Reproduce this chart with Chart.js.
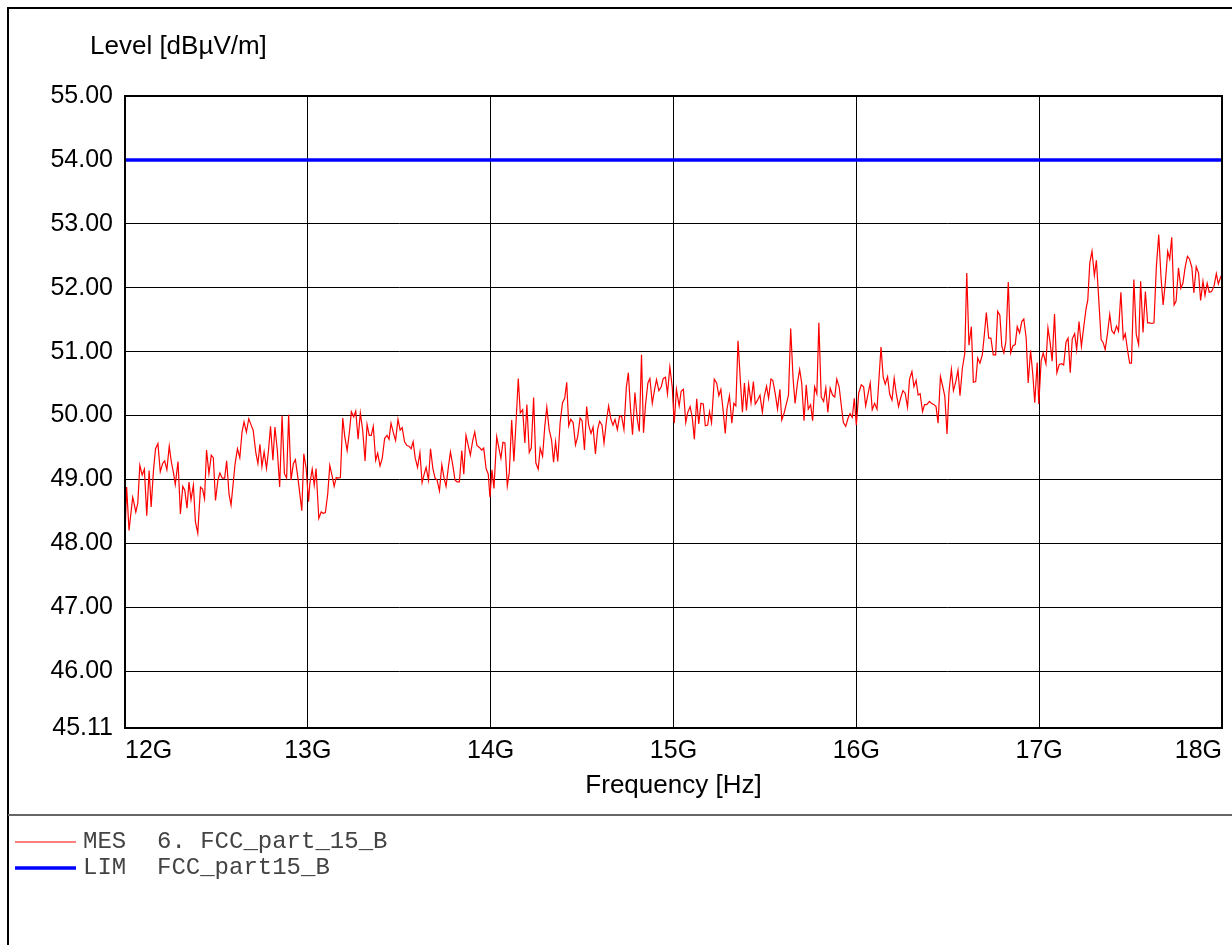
<!DOCTYPE html>
<html>
<head>
<meta charset="utf-8">
<title>Level vs Frequency</title>
<script src="https://cdn.jsdelivr.net/npm/chart.js@4.4.1/dist/chart.umd.min.js"></script>
<style>
	body { margin: 0; background: #fff; }
	canvas { display: block; }
</style>
</head>
<body>
<canvas id="myChart" width="1232" height="945"></canvas>
<script>
// frequencies in GHz
var mesFreq = [
	12.000, 12.009, 12.022, 12.042, 12.048, 12.059, 12.070, 12.081, 12.094, 12.106, 12.119, 12.132, 12.143, 12.156, 12.167, 12.180,
	12.193, 12.206, 12.217, 12.229, 12.242, 12.253, 12.266, 12.275, 12.290, 12.303, 12.316, 12.327, 12.339, 12.350, 12.361, 12.374,
	12.385, 12.398, 12.413, 12.424, 12.435, 12.446, 12.459, 12.472, 12.483, 12.495, 12.508, 12.519, 12.532, 12.545, 12.556, 12.569,
	12.580, 12.602, 12.615, 12.628, 12.640, 12.651, 12.664, 12.677, 12.690, 12.701, 12.716, 12.727, 12.738, 12.749, 12.761, 12.774,
	12.785, 12.796, 12.809, 12.820, 12.833, 12.846, 12.859, 12.872, 12.884, 12.895, 12.908, 12.921, 12.932, 12.945, 12.958, 12.967,
	12.978, 12.991, 13.004,
	13.011, 13.024, 13.035, 13.045, 13.060, 13.073, 13.084, 13.096, 13.109, 13.120, 13.133, 13.144, 13.155, 13.165, 13.178, 13.191,
	13.202, 13.215, 13.227, 13.238, 13.251, 13.262, 13.275, 13.287, 13.300, 13.313, 13.324, 13.336, 13.347, 13.358, 13.371, 13.382,
	13.395, 13.407, 13.420, 13.433, 13.444, 13.455, 13.467, 13.480, 13.493, 13.505, 13.516, 13.529, 13.542, 13.553, 13.565, 13.576,
	13.587, 13.600, 13.613, 13.625, 13.636, 13.647, 13.660, 13.671, 13.684, 13.696, 13.707, 13.720, 13.733, 13.745, 13.756, 13.769,
	13.780, 13.793, 13.805, 13.816, 13.829, 13.842, 13.853, 13.865, 13.876, 13.889, 13.902, 13.913, 13.925, 13.938, 13.951, 13.962,
	13.975, 13.987, 13.996, 14.007, 14.018,
	14.033, 14.045, 14.056, 14.067, 14.078, 14.091, 14.102, 14.115, 14.127, 14.140, 14.151, 14.162, 14.175, 14.187, 14.198, 14.211,
	14.222, 14.235, 14.247, 14.260, 14.271, 14.284, 14.296, 14.307, 14.320, 14.333, 14.344, 14.355, 14.367, 14.380, 14.393, 14.405,
	14.416, 14.427, 14.438, 14.451, 14.464, 14.476, 14.489, 14.500, 14.513, 14.525, 14.536, 14.549, 14.560, 14.573, 14.585, 14.596,
	14.609, 14.620, 14.633, 14.645, 14.658, 14.669, 14.680, 14.693, 14.705, 14.716, 14.729, 14.742, 14.753, 14.765, 14.776, 14.789,
	14.802, 14.813, 14.825, 14.836, 14.847, 14.860, 14.871, 14.884, 14.896, 14.907, 14.920, 14.933, 14.944, 14.956, 14.967, 14.980,
	14.993, 15.004, 15.016,
	15.031, 15.042, 15.054, 15.067, 15.078, 15.091, 15.103, 15.114, 15.127, 15.138, 15.150, 15.163, 15.174, 15.187, 15.197, 15.208,
	15.223, 15.236, 15.248, 15.259, 15.272, 15.283, 15.293, 15.306, 15.319, 15.330, 15.341, 15.353, 15.366, 15.377, 15.388, 15.399,
	15.411, 15.424, 15.437, 15.447, 15.460, 15.473, 15.486, 15.496, 15.509, 15.520, 15.533, 15.543, 15.556, 15.569, 15.582, 15.592,
	15.605, 15.618, 15.629, 15.641, 15.654, 15.665, 15.678, 15.690, 15.701, 15.714, 15.726, 15.737, 15.750, 15.761, 15.772, 15.784,
	15.795, 15.808, 15.821, 15.833, 15.844, 15.857, 15.870, 15.882, 15.893, 15.906, 15.918, 15.929, 15.942, 15.955, 15.966, 15.978,
	15.989, 16.000, 16.013,
	16.027, 16.040, 16.051, 16.064, 16.076, 16.087, 16.100, 16.113, 16.135, 16.147, 16.158, 16.171, 16.182, 16.195, 16.207, 16.218,
	16.231, 16.242, 16.255, 16.267, 16.280, 16.291, 16.304, 16.315, 16.327, 16.338, 16.349, 16.362, 16.373, 16.385, 16.400, 16.411,
	16.425, 16.436, 16.447, 16.460, 16.473, 16.484, 16.496, 16.507, 16.520, 16.531, 16.544, 16.556, 16.567, 16.580, 16.593, 16.604,
	16.616, 16.629, 16.640, 16.653, 16.664, 16.676, 16.689, 16.700, 16.711, 16.724, 16.736, 16.749, 16.762, 16.773, 16.785, 16.796,
	16.807, 16.818, 16.831, 16.844, 16.856, 16.869, 16.880, 16.893, 16.905, 16.916, 16.929, 16.940, 16.953, 16.965, 16.976, 16.989,
	16.998, 17.011, 17.022,
	17.037, 17.048, 17.060, 17.071, 17.084, 17.097, 17.110, 17.123, 17.134, 17.147, 17.158, 17.170, 17.181, 17.194, 17.205, 17.218,
	17.231, 17.244, 17.256, 17.266, 17.277, 17.289, 17.302, 17.313, 17.326, 17.339, 17.350, 17.361, 17.374, 17.386, 17.397, 17.410,
	17.423, 17.434, 17.447, 17.460, 17.471, 17.484, 17.495, 17.505, 17.518, 17.531, 17.544, 17.555, 17.568, 17.581, 17.593, 17.604,
	17.617, 17.628, 17.641, 17.654, 17.667, 17.678, 17.690, 17.703, 17.714, 17.725, 17.738, 17.749, 17.762, 17.775, 17.786, 17.799,
	17.811, 17.822, 17.835, 17.846, 17.859, 17.872, 17.883, 17.896, 17.907, 17.919, 17.930, 17.943, 17.956, 17.969, 17.980, 17.993,
	18.000
];

// level in dBµV/m
var mesLevel = [
	48.13, 48.88, 48.20, 48.72, 48.65, 48.49, 48.63, 49.22, 49.07, 49.16, 48.43, 49.14, 48.57, 49.15, 49.48, 49.56,
	49.12, 49.25, 49.29, 49.15, 49.52, 49.28, 49.09, 48.92, 49.28, 48.46, 48.89, 48.83, 48.55, 48.96, 48.68, 48.91,
	48.34, 48.16, 48.88, 48.85, 48.70, 49.46, 49.09, 49.38, 49.34, 48.67, 48.99, 49.10, 49.02, 49.02, 49.29, 48.77,
	48.60, 49.24, 49.48, 49.34, 49.74, 49.90, 49.74, 49.95, 49.85, 49.77, 49.41, 49.25, 49.55, 49.20, 49.43, 49.17,
	49.46, 49.83, 49.30, 49.82, 49.46, 48.88, 50.00, 49.09, 49.02, 50.01, 48.99, 49.25, 49.31, 49.04, 48.73, 48.51,
	49.40, 49.17, 48.65,
	48.94, 49.16, 48.91, 49.17, 48.39, 48.49, 48.47, 48.48, 48.78, 49.22, 49.05, 48.89, 49.03, 49.02, 49.03, 49.96,
	49.67, 49.45, 49.73, 50.06, 49.98, 50.07, 49.63, 50.04, 49.77, 49.29, 49.86, 49.69, 49.69, 49.83, 49.30, 49.41,
	49.21, 49.33, 49.64, 49.69, 49.63, 49.88, 49.74, 49.61, 49.94, 49.77, 49.81, 49.59, 49.53, 49.52, 49.48, 49.59,
	49.34, 49.19, 49.42, 48.95, 49.08, 49.19, 48.99, 49.48, 49.17, 49.02, 48.99, 48.82, 49.23, 49.02, 48.89, 49.20,
	49.43, 49.22, 48.99, 48.96, 48.96, 49.45, 49.08, 49.69, 49.55, 49.38, 49.61, 49.74, 49.53, 49.50, 49.46, 49.49,
	49.17, 49.08, 48.72, 49.15, 48.86,
	49.67, 49.49, 49.33, 49.58, 49.57, 48.90, 49.11, 49.93, 49.28, 49.96, 50.58, 50.04, 50.09, 49.57, 50.17, 49.42,
	49.49, 50.28, 49.26, 49.16, 49.49, 49.36, 49.83, 50.13, 49.78, 49.62, 49.27, 49.59, 49.28, 49.89, 50.20, 50.27,
	50.52, 49.84, 49.94, 49.89, 49.54, 49.67, 49.96, 49.92, 49.46, 50.14, 49.85, 49.72, 49.82, 49.40, 49.78, 49.91,
	49.85, 49.57, 49.91, 50.15, 49.94, 49.85, 49.94, 49.78, 49.99, 49.99, 49.78, 50.44, 50.67, 50.10, 49.70, 50.36,
	49.94, 49.75, 50.95, 49.73, 50.17, 50.51, 50.58, 50.19, 50.40, 50.56, 50.39, 50.45, 50.58, 50.60, 50.34, 50.76,
	50.45, 49.88, 50.41,
	50.15, 50.38, 50.41, 49.89, 50.05, 50.14, 49.96, 49.63, 50.26, 49.87, 50.19, 50.18, 49.84, 49.85, 50.06, 49.89,
	50.57, 50.51, 50.31, 50.41, 50.06, 49.72, 50.11, 50.31, 49.88, 50.19, 50.15, 51.17, 50.53, 50.05, 50.51, 50.08,
	50.49, 50.20, 50.53, 50.18, 50.24, 50.32, 50.05, 50.29, 50.46, 50.27, 50.57, 50.55, 50.35, 50.10, 50.41, 49.93,
	50.04, 50.19, 50.32, 51.36, 50.58, 50.19, 50.51, 50.72, 50.51, 49.92, 50.48, 50.10, 50.17, 49.92, 50.45, 50.34,
	51.45, 50.29, 50.22, 50.43, 50.05, 50.43, 50.32, 50.29, 50.57, 50.45, 50.15, 49.89, 49.83, 49.96, 50.03, 49.97,
	50.27, 49.85, 50.35,
	50.48, 50.45, 50.15, 50.34, 50.51, 50.09, 50.19, 50.10, 51.07, 50.60, 50.49, 50.61, 50.34, 50.24, 50.58, 50.35,
	50.14, 50.27, 50.39, 50.35, 50.13, 50.57, 50.69, 50.45, 50.55, 50.32, 50.34, 50.06, 50.17, 50.17, 50.22, 50.19,
	50.17, 50.14, 49.88, 50.61, 50.45, 50.30, 49.71, 50.38, 50.72, 50.39, 50.53, 50.71, 50.31, 50.74, 50.97, 52.23,
	51.10, 51.39, 50.52, 50.53, 50.90, 50.82, 50.95, 51.26, 51.61, 51.21, 51.21, 50.95, 50.95, 51.63, 51.57, 51.08,
	50.98, 51.16, 52.09, 50.98, 51.09, 51.11, 51.39, 51.29, 51.47, 51.51, 51.21, 50.51, 51.02, 50.65, 50.20, 50.83,
	50.18, 50.86, 50.98,
	50.81, 51.37, 51.14, 50.85, 51.59, 50.67, 50.80, 50.81, 50.79, 51.15, 51.21, 50.67, 51.20, 51.28, 51.03, 51.47,
	51.08, 51.39, 51.66, 51.81, 52.39, 52.57, 52.19, 52.43, 51.81, 51.19, 51.14, 51.03, 51.29, 51.58, 51.33, 51.28,
	51.40, 51.32, 51.93, 51.20, 51.28, 51.01, 50.82, 50.82, 52.13, 51.27, 51.11, 52.10, 51.30, 51.94, 51.45, 51.45,
	51.44, 51.45, 52.33, 52.83, 52.14, 51.73, 52.08, 52.57, 52.45, 52.79, 51.73, 51.79, 52.31, 51.99, 52.07, 52.33,
	52.49, 52.45, 52.32, 51.92, 52.33, 52.23, 51.80, 52.10, 51.88, 52.07, 51.93, 51.94, 52.02, 52.22, 52.06, 52.17,
	52.20
];

var limFreq = [12, 18];
var limLevel = [54, 54];

var yTicks = [45.11, 46, 47, 48, 49, 50, 51, 52, 53, 54, 55];
var xTicks = [12, 13, 14, 15, 16, 17, 18];

var mesData = mesFreq.map(function(f, i) { return { x: f, y: mesLevel[i] }; });
var limData = limFreq.map(function(f, i) { return { x: f, y: limLevel[i] }; });

// frame, y title and the legend block under the plot
var framePlugin = {
	id: 'frame',
	beforeDraw: function(chart) {
		var ctx = chart.ctx;
		ctx.save();
		ctx.fillStyle = '#fff';
		ctx.fillRect(0, 0, chart.width, chart.height);
		ctx.restore();
	},
	afterDraw: function(chart) {
		var ctx = chart.ctx;
		var a = chart.chartArea;
		ctx.save();
		// outer frame (top + left)
		ctx.strokeStyle = '#000';
		ctx.lineWidth = 2;
		ctx.beginPath();
		ctx.moveTo(8, chart.height);
		ctx.lineTo(8, 8);
		ctx.lineTo(chart.width, 8);
		ctx.stroke();
		// plot border
		ctx.strokeRect(a.left, a.top, a.right - a.left, a.bottom - a.top);
		// separator
		ctx.strokeStyle = '#666';
		ctx.lineWidth = 2;
		ctx.beginPath();
		ctx.moveTo(8, 815);
		ctx.lineTo(chart.width, 815);
		ctx.stroke();
		// y title
		ctx.fillStyle = '#000';
		ctx.font = '26px "Liberation Sans", Arial, sans-serif';
		ctx.textBaseline = 'alphabetic';
		ctx.textAlign = 'left';
		ctx.fillText('Level [dBµV/m]', 90, 54);
		// legend
		var rows = [
			{ ds: chart.data.datasets[0], y: 842, tag: 'MES', name: '6. FCC_part_15_B' },
			{ ds: chart.data.datasets[1], y: 868, tag: 'LIM', name: 'FCC_part15_B' }
		];
		ctx.font = '24px "Liberation Mono", "Courier New", monospace';
		ctx.textBaseline = 'middle';
		rows.forEach(function(r) {
			ctx.strokeStyle = r.ds.borderColor;
			ctx.lineWidth = r.ds.borderWidth;
			ctx.beginPath();
			ctx.moveTo(15, r.y);
			ctx.lineTo(76, r.y);
			ctx.stroke();
			ctx.fillStyle = '#444';
			ctx.fillText(r.tag, 83, r.y);
			ctx.fillText(r.name, 157, r.y);
		});
		ctx.restore();
	}
};

var ctx = document.getElementById('myChart').getContext('2d');
var myChart = new Chart(ctx, {
	type: 'line',
	data: {
		datasets: [{
			label: 'MES',
			data: mesData,
			borderColor: '#ff0000',
			borderWidth: 1.2,
			pointRadius: 0,
			tension: 0
		}, {
			label: 'LIM',
			data: limData,
			borderColor: '#0000ff',
			borderWidth: 3.5,
			pointRadius: 0,
			tension: 0
		}]
	},
	options: {
		responsive: false,
		devicePixelRatio: 1,
		animation: false,
		parsing: false,
		layout: { padding: { top: 96, right: 10, bottom: 130, left: 0 } },
		plugins: {
			legend: { display: false },
			tooltip: { enabled: false }
		},
		scales: {
			x: {
				type: 'linear',
				min: 12,
				max: 18,
				afterBuildTicks: function(scale) {
					scale.ticks = xTicks.map(function(v) { return { value: v }; });
				},
				afterFit: function(scale) { scale.height = 87; },
				grid: { color: '#000', lineWidth: 1, drawTicks: false },
				border: { display: false },
				ticks: {
					align: 'inner',
					padding: 8,
					color: '#000',
					font: { family: '"Liberation Sans", Arial, sans-serif', size: 25 },
					callback: function(v) { return v + 'G'; }
				},
				title: {
					display: true,
					text: 'Frequency [Hz]',
					color: '#000',
					font: { family: '"Liberation Sans", Arial, sans-serif', size: 26 },
					padding: { top: 0, bottom: 14 }
				}
			},
			y: {
				type: 'linear',
				min: 45.11,
				max: 55,
				afterBuildTicks: function(scale) {
					scale.ticks = yTicks.map(function(v) { return { value: v }; });
				},
				afterFit: function(scale) { scale.width = 125; },
				grid: { color: '#000', lineWidth: 1, drawTicks: false },
				border: { display: false },
				ticks: {
					padding: 12,
					color: '#000',
					font: { family: '"Liberation Sans", Arial, sans-serif', size: 25 },
					callback: function(v) { return v.toFixed(2); }
				}
			}
		}
	},
	plugins: [framePlugin]
});
</script>
</body>
</html>
